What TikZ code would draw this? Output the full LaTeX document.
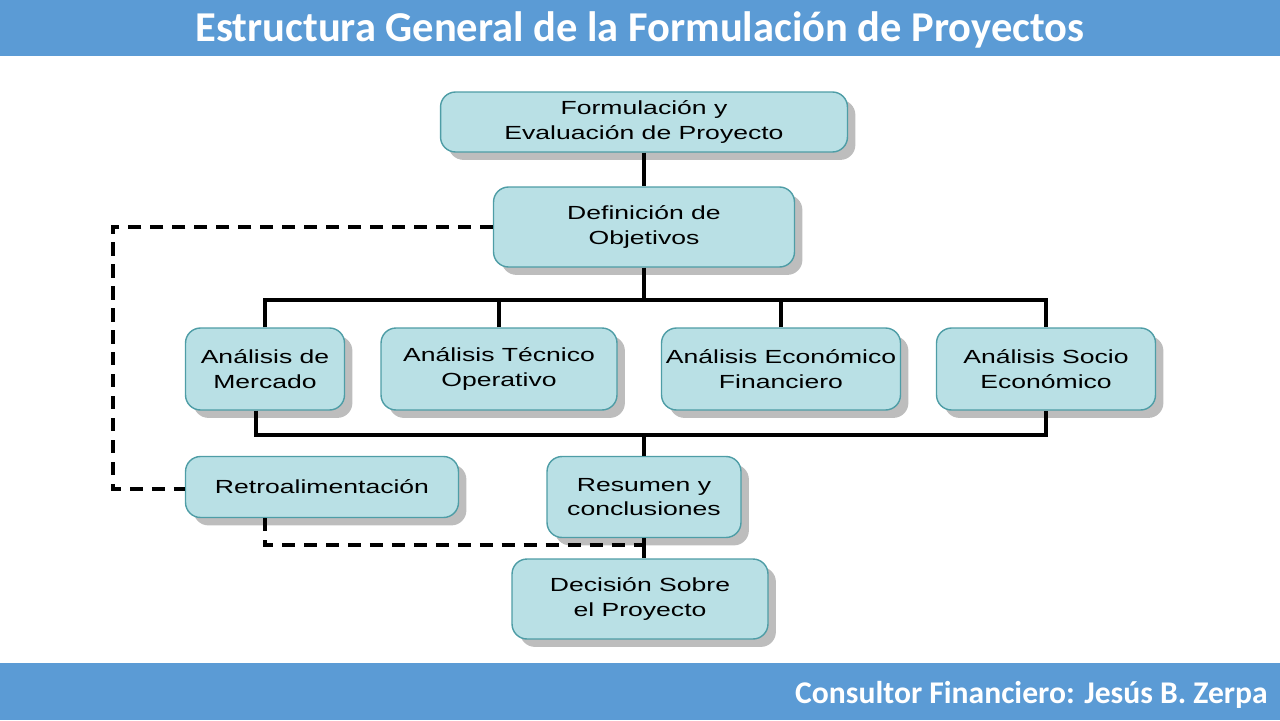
\documentclass[tikz,border=0pt]{standalone}
\usepackage{fontspec}
\setmainfont{Liberation Sans}
\newfontfamily\boxfont[FakeStretch=1.4]{Liberation Sans}
\newfontfamily\barfont{Carlito}
\usetikzlibrary{shadows}
\definecolor{bar-blue}{HTML}{5B9BD5}
\definecolor{box-fill}{HTML}{B9E0E5}
\definecolor{box-line}{HTML}{4E9DA6}
\definecolor{box-shadow}{HTML}{BDBDBD}

\tikzset{
	caja/.style={draw=box-line, fill=box-fill, line width=0.8pt, rounded corners=0.3cm,
		align=center, inner sep=2pt, font=\boxfont\fontsize{10.8}{13.8}\selectfont,
		drop shadow={shadow xshift=4.5pt, shadow yshift=-4.5pt, fill=box-shadow, opacity=1}},
	enlace/.style={line width=1.8pt, black},
	retorno/.style={enlace, dash pattern=on 7.5pt off 5pt},
	barra/.style={text=white, inner sep=0pt}
}

\begin{document}
\begin{tikzpicture}[x=0.02cm, y=-0.02cm]

	\useasboundingbox (0,0) rectangle (1280,720);
	\fill[bar-blue] (0,0) rectangle (1280,56);
	\fill[bar-blue] (0,663) rectangle (1280,720);

	\draw (640,30) 
		node[barra, font=\barfont\bfseries\fontsize{24.2}{28}\selectfont] 
			(Titulo) {Estructura General de la Formulación de Proyectos};

	\draw (1268,695) 
		node[barra, anchor=east, font=\barfont\bfseries\fontsize{18}{20}\selectfont] 
			(Autor) {Consultor Financiero: Jesús B. Zerpa};

	\draw (644,122) 
		node[caja, minimum width=8.14cm, minimum height=1.2cm] 
			(Formulacion) {Formulación y\\Evaluación de Proyecto};

	\draw (644,227) 
		node[caja, minimum width=6.02cm, minimum height=1.6cm] 
			(Definicion) {Definición de\\Objetivos};

	\draw (265,369) 
		node[caja, minimum width=3.18cm, minimum height=1.64cm] 
			(Analisis Mercado) {Análisis de\\Mercado};

	\draw (499,369) 
		node[caja, minimum width=4.72cm, minimum height=1.64cm] 
			(Analisis Tecnico) {Análisis Técnico\\Operativo};

	\draw (781,369) 
		node[caja, minimum width=4.78cm, minimum height=1.64cm] 
			(Analisis Economico) {Análisis Económico\\Financiero};

	\draw (1046,369) 
		node[caja, minimum width=4.38cm, minimum height=1.64cm] 
			(Analisis Socio) {Análisis Socio\\Económico};

	\draw (322,487) 
		node[caja, minimum width=5.46cm, minimum height=1.22cm] 
			(Retroalimentacion) {Retroalimentación};

	\draw (644,497) 
		node[caja, minimum width=3.88cm, minimum height=1.62cm] 
			(Resumen) {Resumen y\\conclusiones};

	\draw (640,599) 
		node[caja, minimum width=5.12cm, minimum height=1.6cm] 
			(Decision) {Decisión Sobre\\el Proyecto};

	\coordinate (Bus Arriba) at (644,300);
	\coordinate (Bus Abajo) at (644,435);
	\coordinate (Cruce) at (644,545);
	\coordinate (Esquina) at (113,489);

	\draw[enlace] (Formulacion) -- (Definicion);
	\draw[enlace] (Definicion) -- (Bus Arriba);
	\draw[enlace] (Analisis Mercado.north) |- (Bus Arriba) -| (Analisis Socio.north);
	\draw[enlace] (Analisis Tecnico.north) -- (Analisis Tecnico.north |- Bus Arriba);
	\draw[enlace] (Analisis Economico.north) -- (Analisis Economico.north |- Bus Arriba);
	\draw[enlace] ([xshift=-0.18cm]Analisis Mercado.south) |- (Bus Abajo) -| (Analisis Socio.south);
	\draw[enlace] (Bus Abajo) -- (Resumen);
	\draw[enlace] (Resumen.south) -- (Resumen.south |- Decision.north);

	\draw[retorno] (Definicion.west) -| (Esquina) -- (Esquina -| Retroalimentacion.west);
	\draw[retorno] (Retroalimentacion.south -| Analisis Mercado.south) |- (Cruce);

\end{tikzpicture}
\end{document}
